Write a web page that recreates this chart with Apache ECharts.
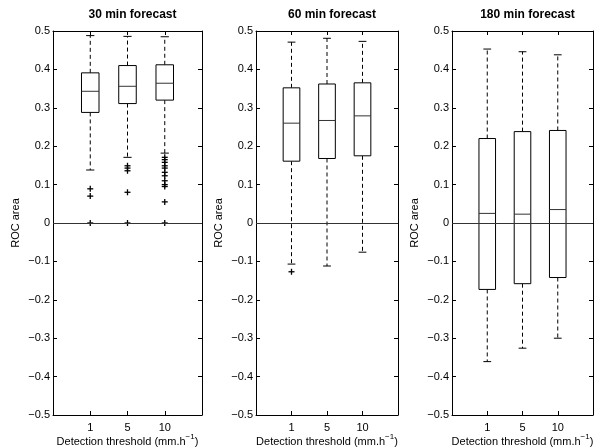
<!DOCTYPE html>
<html>
<head>
<meta charset="utf-8">
<script src="https://cdn.jsdelivr.net/npm/echarts@6/dist/echarts.min.js"></script>
<style>
  html, body { margin: 0; padding: 0; background: #fff; }
  #chart { width: 597px; height: 447px; }
</style>
</head>
<body>
<div id="chart"></div>
<script>
// thresholds on the x axis (drawn at positions 1, 2, 3)
var categories = ['1', '5', '10'];
var titles = ['30 min forecast', '60 min forecast', '180 min forecast'];
var yTicks = [-0.5, -0.4, -0.3, -0.2, -0.1, 0, 0.1, 0.2, 0.3, 0.4, 0.5];

// box stats per threshold: [lower whisker, Q1, median, Q3, upper whisker]
var stats30 = [
    [0.138, 0.288, 0.343, 0.391, 0.488],
    [0.171, 0.311, 0.356, 0.410, 0.486],
    [0.182, 0.320, 0.364, 0.412, 0.485]
];
var stats60 = [
    [-0.107, 0.161, 0.260, 0.352, 0.471],
    [-0.112, 0.168, 0.267, 0.362, 0.481],
    [-0.076, 0.175, 0.279, 0.365, 0.473]
];
var stats180 = [
    [-0.361, -0.173, 0.025, 0.220, 0.453],
    [-0.326, -0.158, 0.023, 0.238, 0.446],
    [-0.300, -0.142, 0.035, 0.241, 0.438]
];

// outliers per threshold
var outliers30 = [
    [0.089, 0.070, 0],
    [0.149, 0.143, 0.136, 0.080, 0],
    [0.171, 0.165, 0.158, 0.149, 0.143, 0.132, 0.123, 0.110, 0.100, 0.095, 0.055, 0]
];
var outliers60 = [[-0.127], [], []];
var outliers180 = [[], [], []];

var allStats = [stats30, stats60, stats180];
var allOutliers = [outliers30, outliers60, outliers180];

var FONT = "'Liberation Sans', Arial, sans-serif";
var grids = [
    { left: 53, width: 149, top: 31, height: 384, outerBoundsMode: 'none' },
    { left: 256, width: 142, top: 31, height: 384, outerBoundsMode: 'none' },
    { left: 452, width: 141, top: 31, height: 384, outerBoundsMode: 'none' }
];

function yFmt(v) {
    var r = Math.round(v * 10) / 10;
    if (r === 0) return '0';
    return r < 0 ? '\u2212' + Math.abs(r).toFixed(1) : r.toFixed(1);
}

function renderBox(params, api) {
    var x = api.value(0);
    var lo = api.value(1), q1 = api.value(2), med = api.value(3), q3 = api.value(4), hi = api.value(5);
    var hw = 0.235, cw = 0.11;
    var tl = api.coord([x - hw, q3]);
    var br = api.coord([x + hw, q1]);
    var mL = api.coord([x - hw, med]);
    var mR = api.coord([x + hw, med]);
    var pHi = api.coord([x, hi]);
    var pLo = api.coord([x, lo]);
    var cHiL = api.coord([x - cw, hi]), cHiR = api.coord([x + cw, hi]);
    var cLoL = api.coord([x - cw, lo]), cLoR = api.coord([x + cw, lo]);
    var solid = { stroke: '#000', lineWidth: 1 };
    var dashed = { stroke: '#000', lineWidth: 1, lineDash: [4, 3] };
    return {
        type: 'group',
        children: [
            { type: 'line', shape: { x1: pHi[0], y1: tl[1], x2: pHi[0], y2: pHi[1] }, style: dashed },
            { type: 'line', shape: { x1: pLo[0], y1: br[1], x2: pLo[0], y2: pLo[1] }, style: dashed },
            { type: 'line', shape: { x1: cHiL[0], y1: cHiL[1], x2: cHiR[0], y2: cHiR[1] }, style: solid },
            { type: 'line', shape: { x1: cLoL[0], y1: cLoL[1], x2: cLoR[0], y2: cLoR[1] }, style: solid },
            { type: 'rect', shape: { x: tl[0], y: tl[1], width: br[0] - tl[0], height: br[1] - tl[1] },
              style: { fill: '#fff', stroke: '#000', lineWidth: 1 } },
            { type: 'line', shape: { x1: mL[0], y1: mL[1], x2: mR[0], y2: mR[1] }, style: { stroke: '#333', lineWidth: 1 } }
        ]
    };
}

function renderPlus(params, api) {
    var p = api.coord([api.value(0), api.value(1)]);
    var s = 3;
    return {
        type: 'group',
        children: [
            { type: 'line', shape: { x1: p[0] - s, y1: p[1], x2: p[0] + s, y2: p[1] }, style: { stroke: '#000', lineWidth: 1.3 } },
            { type: 'line', shape: { x1: p[0], y1: p[1] - s, x2: p[0], y2: p[1] + s }, style: { stroke: '#000', lineWidth: 1.3 } }
        ]
    };
}

var option = {
    animation: false,
    backgroundColor: '#fff',
    textStyle: { fontFamily: FONT },
    title: [],
    grid: grids,
    xAxis: [],
    yAxis: [],
    series: []
};

grids.forEach(function (g, i) {
    option.title.push({
        text: titles[i],
        left: g.left + g.width / 2,
        top: 4,
        textAlign: 'center',
        textStyle: { fontSize: 12, fontWeight: 'bold', color: '#000', fontFamily: FONT }
    });
    option.xAxis.push({
        type: 'value', gridIndex: i, min: 0, max: 4, interval: 1, position: 'bottom',
        name: '{a|Detection threshold (mm.h}{sup|\u22121}{a|)}',
        nameLocation: 'middle', nameGap: 18, nameMoveOverlap: false,
        nameTextStyle: {
            color: '#000',
            rich: {
                a: { fontSize: 11, fontFamily: FONT, color: '#000', lineHeight: 14, verticalAlign: 'bottom' },
                sup: { fontSize: 8, fontFamily: FONT, color: '#000', lineHeight: 14, verticalAlign: 'top' }
            }
        },
        axisLine: { show: true, onZero: false, lineStyle: { color: '#000', width: 1 } },
        axisTick: { show: true, inside: true, length: 4, lineStyle: { color: '#000' } },
        axisLabel: {
            fontSize: 11, color: '#000', margin: 7, fontFamily: FONT,
            formatter: function (v) { return (v >= 1 && v <= 3) ? categories[v - 1] : ''; }
        },
        splitLine: { show: false }
    });
    option.yAxis.push({
        type: 'value', gridIndex: i, min: yTicks[0], max: yTicks[yTicks.length - 1], interval: 0.1, position: 'left',
        name: 'ROC area', nameLocation: 'middle', nameGap: 32, nameRotate: 90,
        nameTextStyle: { fontSize: 11, color: '#000', fontFamily: FONT },
        axisLine: { show: true, onZero: false, lineStyle: { color: '#000', width: 1 } },
        axisTick: { show: true, inside: true, length: 4, lineStyle: { color: '#000' } },
        axisLabel: { fontSize: 11, color: '#000', margin: 3, fontFamily: FONT, formatter: yFmt },
        splitLine: { show: false }
    });
});

// mirrored frame axes (top / right) with ticks only
grids.forEach(function (g, i) {
    option.xAxis.push({
        type: 'value', gridIndex: i, min: 0, max: 4, interval: 1, position: 'top',
        axisLine: { show: true, onZero: false, lineStyle: { color: '#000', width: 1 } },
        axisTick: { show: true, inside: true, length: 4, lineStyle: { color: '#000' } },
        axisLabel: { show: false }, splitLine: { show: false }
    });
    option.yAxis.push({
        type: 'value', gridIndex: i, min: -0.5, max: 0.5, interval: 0.1, position: 'right',
        axisLine: { show: true, onZero: false, lineStyle: { color: '#000', width: 1 } },
        axisTick: { show: true, inside: true, length: 4, lineStyle: { color: '#000' } },
        axisLabel: { show: false }, splitLine: { show: false }
    });
});

allStats.forEach(function (stats, i) {
    option.series.push({
        type: 'custom',
        xAxisIndex: i, yAxisIndex: i,
        renderItem: renderBox,
        encode: { x: 0, y: [1, 2, 3, 4, 5] },
        data: stats.map(function (s, k) { return [k + 1].concat(s); }),
        markLine: {
            silent: true, symbol: 'none', animation: false,
            label: { show: false },
            lineStyle: { color: '#333', type: 'solid', width: 1 },
            data: [{ yAxis: 0 }]
        },
        z: 2
    });
    var pts = [];
    allOutliers[i].forEach(function (list, k) {
        list.forEach(function (v) { pts.push([k + 1, v]); });
    });
    option.series.push({
        type: 'custom',
        xAxisIndex: i, yAxisIndex: i,
        renderItem: renderPlus,
        encode: { x: 0, y: 1 },
        data: pts,
        z: 3
    });
});

var chart = echarts.init(document.getElementById('chart'));
chart.setOption(option);
</script>
</body>
</html>
